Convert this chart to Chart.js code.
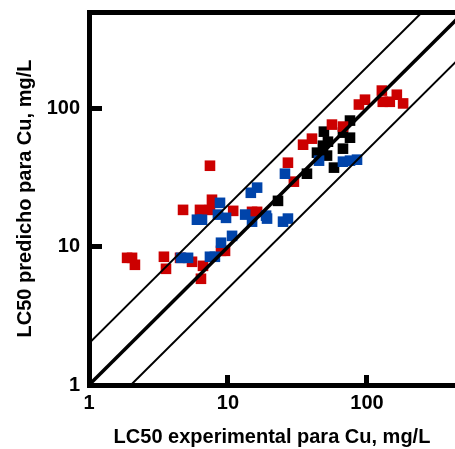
<!DOCTYPE html>
<html lang="es">
<head>
  <meta charset="UTF-8">
  <title>LC50 predicho vs experimental</title>
  <script src="https://cdn.jsdelivr.net/npm/chart.js@4.4.2/dist/chart.umd.min.js"></script>
  <style>
    body {
      margin: 0;
      padding: 0;
      background: #fff;
    }
    canvas {
      display: block;
    }
  </style>
</head>
<body>

  <canvas id="grafico" width="455" height="449"></canvas>

  <script>
    // Datos (mg/L)
    const rojoX = [1.88, 2.04, 2.14, 3.46, 3.58, 4.52, 5.51, 6.61, 6.39, 8.91, 9.52, 7.42, 7.67, 4.75, 6.29, 7.42,
                   10.9, 14.9, 16.2, 27.0, 29.8, 34.7, 40.2, 56.0, 67.2, 96.8, 87.5, 128, 130, 146, 164, 182];
    const rojoY = [8.32, 8.32, 7.41, 8.47, 6.93, 8.32, 7.79, 7.28, 5.87, 9.35, 9.35, 38.6, 21.9, 18.5, 18.5, 18.5,
                   18.2, 17.9, 17.9, 40.6, 29.6, 54.8, 60.6, 76.6, 74.1, 116, 107, 135, 112, 112, 126, 109];

    const azulX = [4.59, 5.16, 7.42, 8.05, 8.91, 10.7, 5.98, 6.50, 8.76, 8.47, 9.68, 13.3, 14.9, 18.8, 19.1, 24.9,
                   27.0, 14.6, 16.2, 25.7, 45.2, 67.2, 75.5, 84.8];
    const azulY = [8.32, 8.32, 8.47, 8.47, 10.7, 12.0, 15.7, 15.7, 20.8, 17.1, 16.2, 17.1, 15.2, 16.8, 16.0, 15.2,
                   16.0, 24.6, 26.8, 33.8, 42.0, 41.3, 42.0, 42.7];

    const negroX = [22.9, 37.0, 57.9, 43.7, 51.6, 52.4, 48.2, 49.0, 67.2, 75.5, 67.2, 75.5];
    const negroY = [21.5, 33.8, 37.4, 48.0, 45.7, 57.6, 53.9, 68.1, 67.0, 61.6, 51.3, 81.9];

    // Lineas 1:1 y factor 2
    const lineaX = [1, 500];
    const factores = [1, 2, 0.5];

    const ticksEjes = [1, 10, 100];
    const tituloX = 'LC50 experimental para Cu, mg/L';
    const tituloY = 'LC50 predicho para Cu, mg/L';

    const fuente = { family: "'Liberation Sans', Arial, sans-serif", size: 20, weight: 'bold' };

    function puntos(xs, ys) {
      return xs.map((x, i) => ({ x: x, y: ys[i] }));
    }

    function serie(xs, ys, color) {
      return {
        data: puntos(xs, ys),
        pointStyle: 'rect',
        pointRadius: 7.5,
        pointHoverRadius: 7.5,
        pointBorderWidth: 0,
        backgroundColor: color,
        borderColor: color,
        showLine: false,
        order: 2
      };
    }

    function linea(f, ancho) {
      return {
        data: lineaX.map(x => ({ x: x, y: x * f })),
        showLine: true,
        borderColor: '#000',
        borderWidth: ancho,
        pointRadius: 0,
        fill: false,
        order: 1
      };
    }

    const soloTicks = scale => {
      scale.ticks = ticksEjes.map(v => ({ value: v }));
    };

    const ctx = document.getElementById('grafico').getContext('2d');
    new Chart(ctx, {
      type: 'scatter',
      data: {
        datasets: [
          linea(factores[0], 3.5),
          linea(factores[1], 2),
          linea(factores[2], 2),
          serie(azulX, azulY, '#0044aa'),
          serie(rojoX, rojoY, '#cc0000'),
          serie(negroX, negroY, '#000000')
        ]
      },
      options: {
        responsive: false,
        animation: false,
        layout: { padding: 0, autoPadding: false },
        plugins: {
          legend: { display: false },
          tooltip: { enabled: false }
        },
        scales: {
          x: {
            type: 'logarithmic',
            position: 'bottom',
            min: 1,
            max: 430,
            afterBuildTicks: soloTicks,
            afterFit: s => { s.height = 64; s.paddingLeft = 0; s.paddingRight = 0; },
            border: { display: true, width: 5, color: '#000' },
            grid: { drawOnChartArea: false, drawTicks: true, tickLength: -10, lineWidth: 5, color: '#000' },
            ticks: {
              color: '#000',
              font: fuente,
              padding: 16,
              maxRotation: 0,
              callback: v => String(v)
            },
            title: {
              display: true,
              text: tituloX,
              color: '#000',
              font: fuente,
              padding: { top: 0, bottom: 0 }
            }
          },
          x2: {
            type: 'linear',
            position: 'top',
            min: 0,
            max: 1,
            afterFit: s => { s.height = 12; },
            border: { display: true, width: 5, color: '#000' },
            grid: { display: false },
            ticks: { display: false }
          },
          y: {
            type: 'logarithmic',
            position: 'left',
            min: 1,
            max: 500,
            afterBuildTicks: soloTicks,
            afterFit: s => { s.width = 89; s.paddingTop = 0; s.paddingBottom = 0; },
            border: { display: true, width: 5, color: '#000' },
            grid: { drawOnChartArea: false, drawTicks: true, tickLength: -13, lineWidth: 5, color: '#000' },
            ticks: {
              color: '#000',
              font: fuente,
              padding: 22,
              callback: v => String(v)
            },
            title: {
              display: true,
              text: tituloY,
              color: '#000',
              font: fuente,
              padding: { top: 13, bottom: 0 }
            }
          }
        }
      }
    });
  </script>

</body>
</html>
